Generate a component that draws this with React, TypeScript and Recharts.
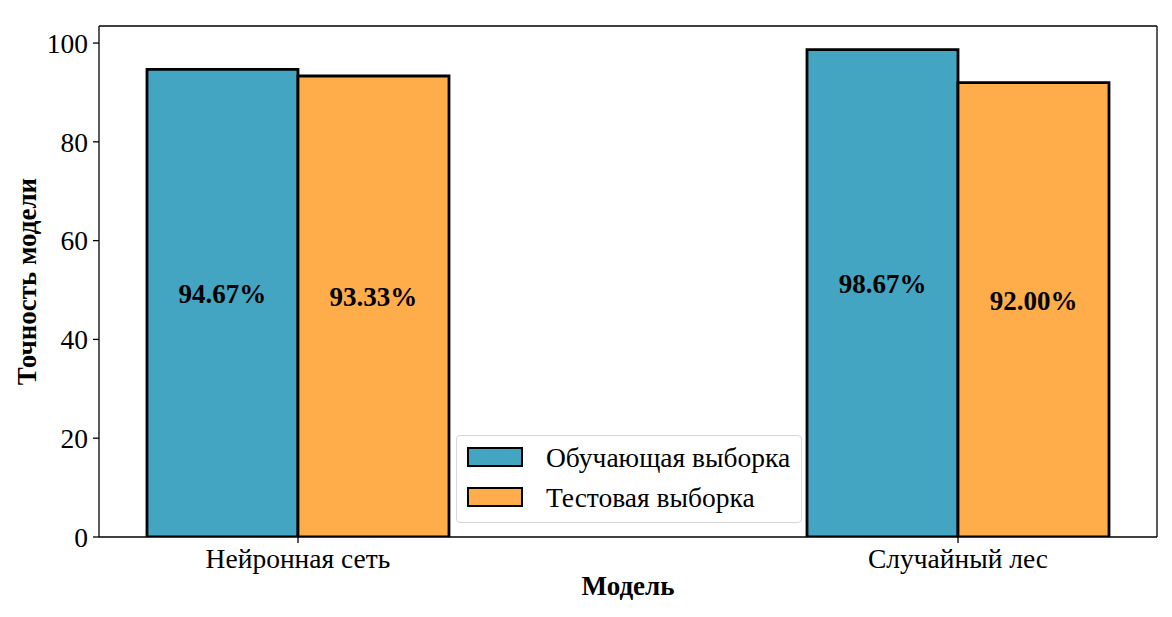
import React from "react";
import {
  BarChart,
  Bar,
  XAxis,
  YAxis,
  LabelList,
  Label,
  Legend,
  ReferenceLine,
} from "recharts";

// model accuracy, train vs test
const models = ["Нейронная сеть", "Случайный лес"];
const modelIndex = [0, 1];
const trainAcc = [94.67, 98.67];
const testAcc = [93.33, 92.0];
const yTicks = [0, 20, 40, 60, 80, 100];

const FONT = '"Liberation Serif", "Times New Roman", serif';
const BLUE = "#43A5C2";
const ORANGE = "#FFAD4A";
const X_MIN = -0.3015;
const X_MAX = 1.3015;
const Y_MAX = 103.45;

const data = models.map((name, i) => ({
  pos: modelIndex[i],
  name,
  train: trainAcc[i],
  test: testAcc[i],
}));

const renderValue = (props: any) => {
  const { x, y, width, height, value } = props;
  return (
    <text
      x={x + width / 2}
      y={y + height / 2}
      textAnchor="middle"
      fontFamily={FONT}
      fontWeight="bold"
      fontSize={27}
      fill="#000"
    >
      {`${Number(value).toFixed(2)}%`}
    </text>
  );
};

const LegendBox = (props: any) => {
  const { payload } = props;
  return (
    <div
      style={{
        boxSizing: "border-box",
        width: 346,
        height: 88,
        border: "1px solid #d6d6d6",
        borderRadius: 4,
        background: "rgba(255,255,255,0.8)",
        paddingTop: 11,
        paddingLeft: 10,
      }}
    >
      {(payload || []).map((item: any) => (
        <div
          key={item.value}
          style={{ display: "flex", alignItems: "center", height: 40 }}
        >
          <div
            style={{
              boxSizing: "border-box",
              width: 56,
              height: 20,
              background: item.color,
              border: "2.8px solid #000",
              marginRight: 23,
              marginTop: -20,
            }}
          />
          <span
            style={{
              fontFamily: FONT,
              fontSize: 27.5,
              color: "#000",
              lineHeight: "27px",
              marginTop: -20,
            }}
          >
            {item.value}
          </span>
        </div>
      ))}
    </div>
  );
};

export default function App() {
  return (
    <div style={{ position: "absolute", left: 0, top: 0, background: "#fff" }}>
      <BarChart
        width={1172}
        height={617}
        data={data}
        margin={{ top: 26, right: 15, left: 0, bottom: 0 }}
        barGap={0}
        barSize={151}
      >
        <XAxis
          dataKey="pos"
          type="number"
          domain={[X_MIN, X_MAX]}
          ticks={modelIndex}
          tickFormatter={(v: number) => models[v] ?? ""}
          allowDataOverflow
          height={80}
          stroke="#000"
          strokeWidth={1.3}
          tickSize={6}
          tickMargin={5}
          tick={{ fill: "#000", fontSize: 27.5, fontFamily: FONT }}
        >
          <Label
            content={(p: any) => (
              <text
                x={p.viewBox.x + p.viewBox.width / 2}
                y={p.viewBox.y + 58}
                textAnchor="middle"
                fontFamily={FONT}
                fontWeight="bold"
                fontSize={27}
                fill="#000"
              >
                Модель
              </text>
            )}
          />
        </XAxis>
        <YAxis
          type="number"
          domain={[0, Y_MAX]}
          ticks={yTicks}
          allowDataOverflow
          width={99}
          stroke="#000"
          strokeWidth={1.3}
          tickSize={6}
          tickMargin={5}
          tick={{ fill: "#000", fontSize: 27.5, fontFamily: FONT }}
        >
          <Label
            content={(p: any) => {
              const cx = 27;
              const cy = p.viewBox.y + p.viewBox.height / 2;
              return (
                <text
                  x={cx}
                  y={cy}
                  transform={`rotate(-90, ${cx}, ${cy})`}
                  textAnchor="middle"
                  dominantBaseline="central"
                  fontFamily={FONT}
                  fontWeight="bold"
                  fontSize={27}
                  fill="#000"
                >
                  Точность модели
                </text>
              );
            }}
          />
        </YAxis>
        <ReferenceLine y={Y_MAX} stroke="#000" strokeWidth={1.3} />
        <ReferenceLine x={X_MAX} stroke="#000" strokeWidth={1.3} />
        <Legend
          verticalAlign="middle"
          align="center"
          content={<LegendBox />}
          wrapperStyle={{ left: 456, top: 435, width: 346, height: 88 }}
        />
        <Bar
          dataKey="train"
          name="Обучающая выборка"
          fill={BLUE}
          stroke="#000"
          strokeWidth={2.8}
          isAnimationActive={false}
        >
          <LabelList dataKey="train" content={renderValue} />
        </Bar>
        <Bar
          dataKey="test"
          name="Тестовая выборка"
          fill={ORANGE}
          stroke="#000"
          strokeWidth={2.8}
          isAnimationActive={false}
        >
          <LabelList dataKey="test" content={renderValue} />
        </Bar>
      </BarChart>
    </div>
  );
}
